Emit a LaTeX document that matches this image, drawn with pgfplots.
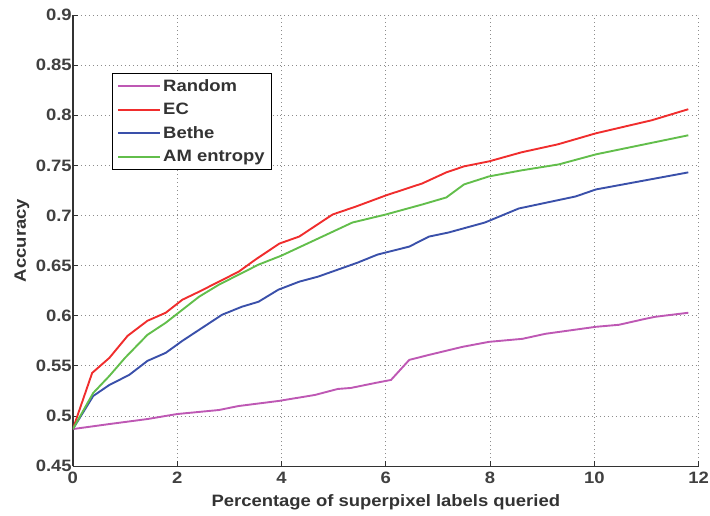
\documentclass[border=0pt]{standalone}
\usepackage{fontspec}
\setmainfont{Liberation Sans}[FakeStretch=1.12]
\usepackage{pgfplots}
\pgfplotsset{compat=1.18}
\definecolor{crand}{RGB}{190,88,180}
\definecolor{cec}{RGB}{240,45,45}
\definecolor{cbethe}{RGB}{58,80,170}
\definecolor{cam}{RGB}{98,190,75}
\begin{document}
\begin{tikzpicture}
\begin{axis}[
  scale only axis,
  width=627bp, height=452bp,
  xmin=0, xmax=12, ymin=0.45, ymax=0.9,
  xtick={0,2,...,12},
  ytick={0.45,0.5,0.55,0.6,0.65,0.7,0.75,0.8,0.85,0.9},
  yticklabels={0.45,0.5,0.55,0.6,0.65,0.7,0.75,0.8,0.85,0.9},
  /pgf/number format/assume math mode=true,
  axis x line*=bottom, axis y line*=left,
  axis line style={line width=1.3bp, draw=black!80, -},
  tick align=inside, major tick length=5bp,
  tick style={line width=0.8bp, black!80},
  grid=major,
  major grid style={dash pattern=on 1bp off 3bp, line width=0.8bp, draw=black!45},
  tick label style={font=\bfseries\fontsize{16.5bp}{19bp}\selectfont, text=black!75},
  yticklabel style={inner sep=1bp},
  xticklabel style={inner sep=1bp, yshift=-5bp},
  xlabel={Percentage of superpixel labels queried},
  ylabel={Accuracy},
  label style={font=\bfseries\fontsize{16.5bp}{19bp}\selectfont, text=black!80},
  xlabel style={inner sep=1bp, yshift=-8bp},
  ylabel style={yshift=2bp},
  legend style={at={(0.062,0.872)}, anchor=north west, draw=black, line width=1.3bp,
    font=\bfseries\fontsize{16.5bp}{19bp}\selectfont, text=black!80,
    inner xsep=5bp, inner ysep=4bp, row sep=6.5bp},
  legend cell align=left,
  legend image code/.code={\draw[#1, line width=2bp] (0bp,0bp) -- (42bp,0bp);},
  every axis plot/.append style={line width=1.9bp},
]
\addplot[crand] coordinates {
(0,0.487) (0.70,0.492) (1.43,0.497) (2.00,0.502) (2.80,0.506) (3.18,0.510)
(3.94,0.515) (4.64,0.521) (5.08,0.527) (5.33,0.528) (5.80,0.533) (6.10,0.536)
(6.45,0.556) (6.83,0.561) (7.47,0.569) (7.98,0.574) (8.62,0.577) (9.06,0.582)
(10.03,0.589) (10.47,0.591) (10.98,0.597) (11.17,0.599) (11.8,0.603)};
\addlegendentry{Random}
\addplot[cec] coordinates {
(0,0.487) (0.37,0.543) (0.70,0.558) (1.05,0.580) (1.43,0.595) (1.78,0.603)
(2.10,0.616) (2.42,0.624) (2.80,0.634) (3.18,0.644) (3.50,0.656) (3.96,0.672)
(4.34,0.679) (4.98,0.701) (5.43,0.709) (6.00,0.720) (6.70,0.732) (7.16,0.743)
(7.50,0.749) (7.98,0.754) (8.60,0.763) (9.30,0.771) (10.03,0.782) (11.1,0.795) (11.8,0.806)};
\addlegendentry{EC}
\addplot[cbethe] coordinates {
(0,0.487) (0.39,0.520) (0.70,0.531) (1.08,0.541) (1.43,0.555) (1.78,0.563)
(2.10,0.575) (2.48,0.588) (2.86,0.601) (3.24,0.609) (3.56,0.614) (3.94,0.626)
(4.34,0.634) (4.70,0.639) (5.08,0.646) (5.46,0.653) (5.84,0.661) (6.45,0.669)
(6.83,0.679) (7.20,0.683) (7.90,0.693) (8.55,0.707) (9.64,0.719) (10.03,0.726) (11.8,0.743)};
\addlegendentry{Bethe}
\addplot[cam] coordinates {
(0,0.487) (0.39,0.523) (0.70,0.540) (1.00,0.558) (1.43,0.581) (1.78,0.593)
(2.10,0.606) (2.42,0.619) (2.80,0.631) (3.18,0.641) (3.56,0.651) (4.00,0.660)
(4.66,0.676) (5.36,0.693) (6.00,0.701) (6.70,0.711) (7.16,0.718) (7.50,0.731)
(7.98,0.739) (8.60,0.745) (9.32,0.751) (10.03,0.761) (11.8,0.780)};
\addlegendentry{AM entropy}
\end{axis}
\path (current axis.south west) ++(-73bp,-49bp);
\path (current axis.north east) ++(10bp,15bp);
\end{tikzpicture}
\end{document}
